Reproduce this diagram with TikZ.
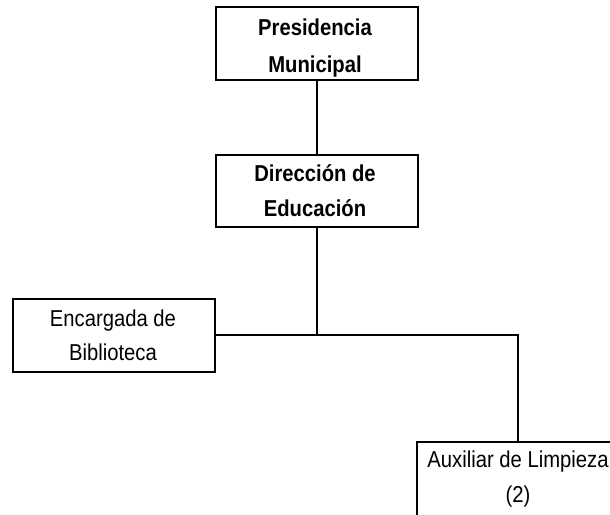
\documentclass[tikz,border=0pt]{standalone}
\usepackage{fontspec}
\setmainfont[FakeStretch=0.88]{Liberation Sans}
\begin{document}
\begin{tikzpicture}[x=1pt,y=-1pt,
  box/.style={draw, line width=2pt, inner sep=0pt, minimum width=202pt},
  lbl/.style={inner sep=0pt, anchor=base, font=\fontsize{23}{27}\selectfont},
  blbl/.style={lbl, font=\fontsize{23}{27}\selectfont\bfseries},
  conn/.style={line width=2pt}]
\useasboundingbox (0,0) rectangle (610,514);
\clip (0,0) rectangle (610,514);
\fill[white] (0,0) rectangle (610,514);
% boxes
\node[box, minimum height=73pt] (pm) at (317,43.5) {};
\node[box, minimum height=72pt] (de) at (317,191) {};
\node[box, minimum height=73pt] (eb) at (114,335) {};
\node[box, minimum height=90pt] (al) at (518,487) {};
% texts
\node[blbl] (pm1) at (315,35) {Presidencia};
\node[blbl] (pm2) at (315,72) {Municipal};
\node[blbl] (de1) at (315,181) {Dirección de};
\node[blbl] (de2) at (315,216) {Educación};
\node[lbl] (eb1) at (113,326) {Encargada de};
\node[lbl] (eb2) at (113,360) {Biblioteca};
\node[lbl] (al1) at (518,467) {Auxiliar de Limpieza};
\node[lbl] (al2) at (518,502) {(2)};
% connectors
\draw[conn] (pm.south) -- (de.north);
\draw[conn] (de.south) -- (de.south |- eb.east);
\draw[conn] (eb.east) -| (al.north);
\end{tikzpicture}
\end{document}
